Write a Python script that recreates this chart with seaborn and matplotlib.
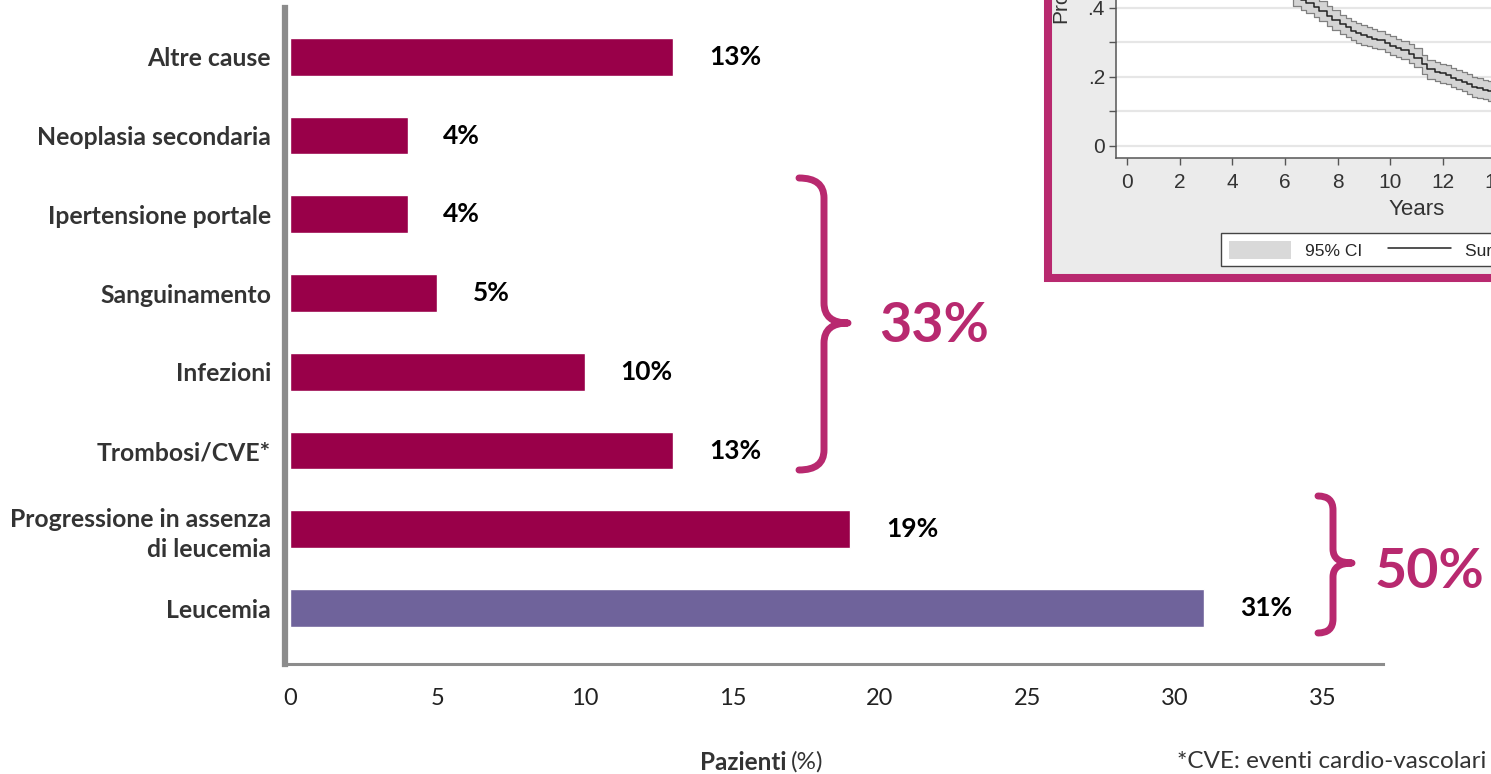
import numpy as np
import pandas as pd
import matplotlib
matplotlib.use("Agg")
import matplotlib.pyplot as plt
import seaborn as sns
from matplotlib.path import Path
from matplotlib.patches import PathPatch, Rectangle, Patch
from matplotlib.lines import Line2D
from matplotlib.transforms import Affine2D

# ---- data -------------------------------------------------------------
categories = [
    "Altre cause",
    "Neoplasia secondaria",
    "Ipertensione portale",
    "Sanguinamento",
    "Infezioni",
    "Trombosi/CVE*",
    "Progressione in assenza\ndi leucemia",
    "Leucemia",
]
values = [13, 4, 4, 5, 10, 13, 19, 31]
value_labels = ["13%", "4%", "4%", "5%", "10%", "13%", "19%", "31%"]
x_ticks = [0, 5, 10, 15, 20, 25, 30, 35]
group_labels = ["33%", "50%"]

# survival curve shown in the inset (years, estimate and 95% CI)
surv_years = [6.3, 6.6, 6.8, 7.1, 7.3, 7.6, 7.8, 8.1, 8.3, 8.5, 8.7, 8.9,
              9.1, 9.3, 9.5, 9.8, 10.0, 10.2, 10.4, 10.7, 10.9, 11.2, 11.4,
              11.7, 11.9, 12.1, 12.3, 12.5, 12.7, 12.9, 13.1, 13.3, 13.5,
              13.7, 13.9, 14.5]
surv_est = [0.435, 0.424, 0.414, 0.401, 0.390, 0.376, 0.365, 0.352, 0.343,
            0.334, 0.327, 0.321, 0.316, 0.311, 0.307, 0.298, 0.290, 0.284,
            0.278, 0.266, 0.255, 0.236, 0.222, 0.214, 0.210, 0.205, 0.197,
            0.192, 0.185, 0.179, 0.171, 0.168, 0.163, 0.158, 0.155, 0.150]
surv_low = [0.405, 0.395, 0.385, 0.373, 0.362, 0.348, 0.337, 0.324, 0.315,
            0.306, 0.299, 0.293, 0.288, 0.284, 0.280, 0.271, 0.263, 0.257,
            0.251, 0.239, 0.228, 0.209, 0.195, 0.187, 0.183, 0.178, 0.170,
            0.165, 0.158, 0.151, 0.143, 0.140, 0.135, 0.130, 0.127, 0.122]
surv_high = [0.465, 0.454, 0.443, 0.430, 0.419, 0.405, 0.394, 0.380, 0.371,
             0.362, 0.355, 0.349, 0.344, 0.339, 0.334, 0.325, 0.317, 0.311,
             0.305, 0.294, 0.283, 0.263, 0.249, 0.242, 0.238, 0.233, 0.225,
             0.220, 0.213, 0.207, 0.200, 0.197, 0.192, 0.187, 0.184, 0.179]
inset_xticks = [0, 2, 4, 6, 8, 10, 12, 14]
inset_yticks = [0, 0.1, 0.2, 0.3, 0.4]
inset_yticklabels = ["0", "", ".2", "", ".4"]

# ---- style ------------------------------------------------------------
BAR = "#990049"
BAR_LEU = "#6f639b"
ACCENT = "#b8296f"
LABEL = "#333333"
AXIS = "#8c8c8c"

sns.set_theme(style="white")
plt.rcParams["font.family"] = ["Lato", "DejaVu Sans"]

W, H = 1491, 774
fig = plt.figure(figsize=(W / 100, H / 100), dpi=100)
fig.patch.set_facecolor("white")

# pixel coordinates (origin top-left) -> figure
px = Affine2D().scale(1 / W, -1 / H).translate(0, 1) + fig.transFigure


def box(l, t, r, b):
    return [l / W, 1 - b / H, (r - l) / W, (b - t) / H]


# ---- main bar chart ---------------------------------------------------
ax = fig.add_axes(box(285, 8, 1383, 664))
df = pd.DataFrame({"cause": categories, "pct": values})
palette = [BAR] * (len(categories) - 1) + [BAR_LEU]
sns.barplot(data=df, x="pct", y="cause", hue="cause", palette=palette,
            legend=False, width=0.48, saturation=1, orient="h", ax=ax)

ax.set_xlim(-0.17, 37.06)
ax.set_ylim(len(categories) - 1 + 0.71, -0.62)
ax.set_xticks(x_ticks)
ax.set_xticklabels([str(t) for t in x_ticks])
ax.set_xlabel("")
ax.set_ylabel("")
ax.tick_params(axis="x", length=0, pad=17, labelsize=17, labelcolor="#222222")
ax.tick_params(axis="y", length=0, pad=10, labelsize=17.8, labelcolor=LABEL)
for t in ax.get_yticklabels():
    t.set_fontweight("bold")
    t.set_linespacing(1.35)

for side in ("top", "right"):
    ax.spines[side].set_visible(False)
ax.spines["left"].set_color(AXIS)
ax.spines["left"].set_linewidth(4.5)
ax.spines["bottom"].set_color(AXIS)
ax.spines["bottom"].set_linewidth(2.2)

for i, (v, lab) in enumerate(zip(values, value_labels)):
    ax.text(v + 1.2, i, lab, ha="left", va="center", fontsize=19,
            fontweight="bold", color="black")

# axis title and footnote
fig.text(786, 762, "Pazienti", transform=px, ha="right", va="center",
         fontsize=17.5, fontweight="bold", color=LABEL)
fig.text(791, 762, "(%)", transform=px, ha="left", va="center",
         fontsize=17.5, color=LABEL)
fig.text(1486, 762, "*CVE: eventi cardio-vascolari", transform=px,
         ha="right", va="center", fontsize=17.5, color=LABEL)


# ---- curly braces grouping the causes -------------------------------
def brace(x_end, x_spine, x_tip, y_top, y_mid, y_bot, r):
    verts = [
        (x_end, y_top), (x_spine, y_top), (x_spine, y_top + r),
        (x_spine, y_mid - r),
        (x_spine, y_mid), (x_tip, y_mid),
        (x_spine, y_mid), (x_spine, y_mid + r),
        (x_spine, y_bot - r),
        (x_spine, y_bot), (x_end, y_bot),
    ]
    codes = [
        Path.MOVETO, Path.CURVE3, Path.CURVE3,
        Path.LINETO,
        Path.CURVE3, Path.CURVE3,
        Path.CURVE3, Path.CURVE3,
        Path.LINETO,
        Path.CURVE3, Path.CURVE3,
    ]
    return PathPatch(Path(verts, codes), transform=px, fill=False,
                     edgecolor=ACCENT, linewidth=5, capstyle="round",
                     joinstyle="round")


fig.patches.append(brace(799, 824, 848, 178, 323, 470, 20))
fig.patches.append(brace(1318, 1333, 1352, 496, 563, 633, 14))
fig.text(879, 342, group_labels[0], transform=px, ha="left", va="baseline",
         fontsize=40, fontweight="bold", color=ACCENT)
fig.text(1375, 588, group_labels[1], transform=px, ha="left", va="baseline",
         fontsize=40, fontweight="bold", color=ACCENT)

# ---- inset: survival curve ------------------------------------------
panel = Rectangle((1048, -20), 700, 298, transform=px, facecolor="#ebebeb",
                  edgecolor=ACCENT, linewidth=5.8, zorder=1)
fig.patches.append(panel)

iax = fig.add_axes(box(1116, -6, 1717, 158))
iax.set_zorder(3)
iax.set_facecolor("white")
iax.set_xlim(-0.42, 22.4)
iax.set_ylim(-0.035, 0.44)
iax.fill_between(surv_years, surv_low, surv_high, step="post",
                 facecolor="#d4d4d4", edgecolor="#808080", linewidth=0.9)
iax.plot(surv_years, surv_est, drawstyle="steps-post", color="#222222",
         linewidth=1.1)
iax.set_yticks(inset_yticks)
iax.set_yticklabels(inset_yticklabels)
iax.set_xticks(inset_xticks)
iax.grid(axis="y", color="#e6e6e6", linewidth=1.6)
iax.grid(axis="x", visible=False)
iax.set_axisbelow(True)
for side in ("top", "right"):
    iax.spines[side].set_visible(False)
for side in ("left", "bottom"):
    iax.spines[side].set_color("#555555")
    iax.spines[side].set_linewidth(1.1)
iax.tick_params(axis="both", direction="out", length=5, width=1,
                color="#555555", labelsize=15, labelcolor="#333333",
                left=True, bottom=True, labelfontfamily="Liberation Sans")
iax.tick_params(axis="x", pad=6)
iax.tick_params(axis="y", pad=3)
iax.set_xlabel("Years", fontsize=16, color="#333333",
               fontfamily="Liberation Sans", labelpad=5)
fig.text(1061, 23, "Probability", transform=px, rotation=90, ha="center",
         va="bottom", fontsize=15, color="#333333",
         fontfamily="Liberation Sans", zorder=4)

handles = [Patch(facecolor="#d9d9d9", edgecolor="none"),
           Line2D([0], [0], color="#222222", linewidth=1.1)]
leg = fig.legend(handles, ["95% CI", "Survivor function"], ncol=2,
                 loc="upper left", bbox_to_anchor=(1221 / W, 1 - 233 / H),
                 bbox_transform=fig.transFigure, frameon=True, fancybox=False,
                 edgecolor="#444444", facecolor="white", framealpha=1,
                 borderaxespad=0, handlelength=3.6, handleheight=1.2,
                 columnspacing=1.5, borderpad=0.45,
                 prop={"family": "Liberation Sans", "size": 12.5})
leg.get_frame().set_linewidth(1)
leg.set_zorder(5)

fig.savefig("out.png", dpi=100, facecolor="white")
